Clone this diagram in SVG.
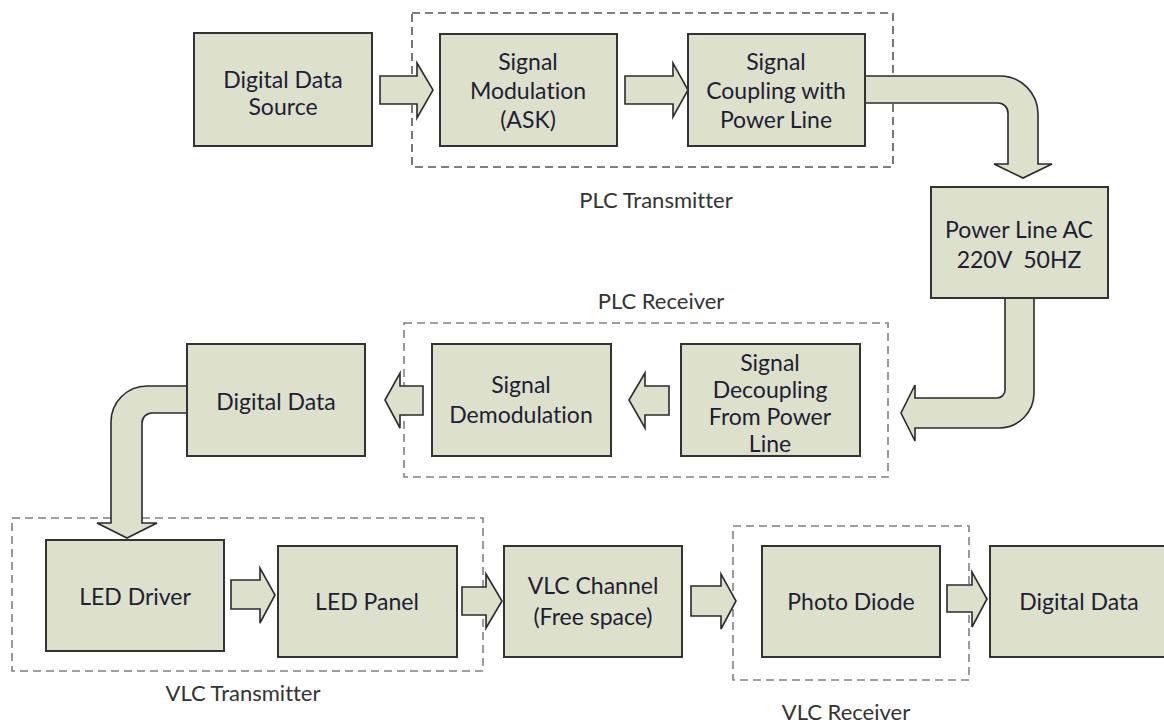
<svg xmlns="http://www.w3.org/2000/svg" width="1164" height="726" viewBox="0 0 1164 726">
  <style>
    .box { fill: #dde0ca; stroke: #333333; stroke-width: 2; }
    .arrow { fill: #dde0ca; stroke: #2b2b2b; stroke-width: 1.6; stroke-linejoin: miter; }
    .group { fill: none; stroke: #808080; stroke-width: 1.6; stroke-dasharray: 8 5; }
    .group.dark { stroke: #555555; }
    .t { font-family: Lato, "Liberation Sans", sans-serif; font-size: 23px; fill: #1e1e36; text-anchor: middle; font-variant-ligatures: none; }
    .lbl { font-family: Lato, "Liberation Sans", sans-serif; font-size: 22px; fill: #333333; text-anchor: middle; font-variant-ligatures: none; }
  </style>
  <rect width="1164" height="726" fill="#ffffff"/>

  <!-- dashed sub-system frames -->
  <g id="frames">
    <rect class="group dark" x="412" y="13" width="481" height="154"/>
    <text class="lbl" x="656" y="208">PLC Transmitter</text>
    <rect class="group" x="404" y="323" width="484" height="154"/>
    <text class="lbl" x="661" y="309">PLC Receiver</text>
    <rect class="group" x="12" y="518" width="471" height="153"/>
    <text class="lbl" x="243" y="701">VLC Transmitter</text>
    <rect class="group" x="733" y="526" width="236" height="154"/>
    <text class="lbl" x="846" y="720">VLC Receiver</text>
  </g>

  <!-- block-arrow connectors -->
  <g id="connectors">
    <path class="arrow" d="M380,76 H417 V63 L433,90 L417,118 V104 H380 Z"/>
    <path class="arrow" d="M625,76 H673 V63 L688,90 L673,117 V104 H625 Z"/>
    <path class="arrow" d="M865,76 H1000 A38,38 0 0 1 1038,114 V164 H1052 L1023,178 L994,164 H1008 V113 A10,10 0 0 0 998,103 H865 Z"/>
    <path class="arrow" d="M1005,298 V390 A8,8 0 0 1 997,398 H915 V385 L901,413 L915,441 V428 H999 A35,35 0 0 0 1034,393 V298 Z"/>
    <path class="arrow" d="M669,386 H645 V373 L629,400 L645,428 V415 H669 Z"/>
    <path class="arrow" d="M423,386 H400 V373 L385,400 L400,428 V415 H423 Z"/>
    <path class="arrow" d="M187,386 H147 A36,36 0 0 0 111,422 V523 H97 L127,538 L157,523 H142 V423 A10,10 0 0 1 152,413 H187 Z"/>
    <path class="arrow" d="M231,580 H260 V568 L275,595 L260,623 V609 H231 Z"/>
    <path class="arrow" d="M462,587 H486 V574 L502,601 L486,628 V615 H462 Z"/>
    <path class="arrow" d="M691,586 H721 V574 L736,601 L721,629 V616 H691 Z"/>
    <path class="arrow" d="M947,585 H972 V572 L987,599 L972,627 V612 H947 Z"/>
  </g>

  <g id="digital-data-source">
    <rect class="box" x="194" y="33" width="178" height="113"/>
    <text class="t" x="283" y="88">Digital Data</text>
    <text class="t" x="283" y="115">Source</text>
  </g>
  <g id="signal-modulation">
    <rect class="box" x="440" y="34" width="177" height="112"/>
    <text class="t" x="528" y="70">Signal</text>
    <text class="t" x="528" y="99">Modulation</text>
    <text class="t" x="528" y="128">(ASK)</text>
  </g>
  <g id="signal-coupling">
    <rect class="box" x="688" y="34" width="177" height="112"/>
    <text class="t" x="776" y="70">Signal</text>
    <text class="t" x="776" y="99">Coupling with</text>
    <text class="t" x="776" y="128">Power Line</text>
  </g>
  <g id="power-line">
    <rect class="box" x="931" y="187" width="177" height="111"/>
    <text class="t" x="1019" y="238">Power Line AC</text>
    <text class="t" x="1019" y="268" xml:space="preserve">220V  50HZ</text>
  </g>
  <g id="signal-decoupling">
    <rect class="box" x="681" y="344" width="179" height="112"/>
    <text class="t" x="770" y="371">Signal</text>
    <text class="t" x="770" y="398">Decoupling</text>
    <text class="t" x="770" y="425">From Power</text>
    <text class="t" x="770" y="452">Line</text>
  </g>
  <g id="signal-demodulation">
    <rect class="box" x="432" y="344" width="179" height="112"/>
    <text class="t" x="521" y="393">Signal</text>
    <text class="t" x="521" y="423">Demodulation</text>
  </g>
  <g id="digital-data-mid">
    <rect class="box" x="187" y="344" width="178" height="112"/>
    <text class="t" x="276" y="410">Digital Data</text>
  </g>
  <g id="led-driver">
    <rect class="box" x="46" y="540" width="178" height="111"/>
    <text class="t" x="135" y="605">LED Driver</text>
  </g>
  <g id="led-panel">
    <rect class="box" x="278" y="546" width="179" height="111"/>
    <text class="t" x="367" y="610">LED Panel</text>
  </g>
  <g id="vlc-channel">
    <rect class="box" x="504" y="546" width="178" height="111"/>
    <text class="t" x="593" y="594">VLC Channel</text>
    <text class="t" x="593" y="625">(Free space)</text>
  </g>
  <g id="photo-diode">
    <rect class="box" x="762" y="546" width="178" height="111"/>
    <text class="t" x="851" y="610">Photo Diode</text>
  </g>
  <g id="digital-data-out">
    <rect class="box" x="990" y="546" width="184" height="111"/>
    <text class="t" x="1079" y="610">Digital Data</text>
  </g>
</svg>
